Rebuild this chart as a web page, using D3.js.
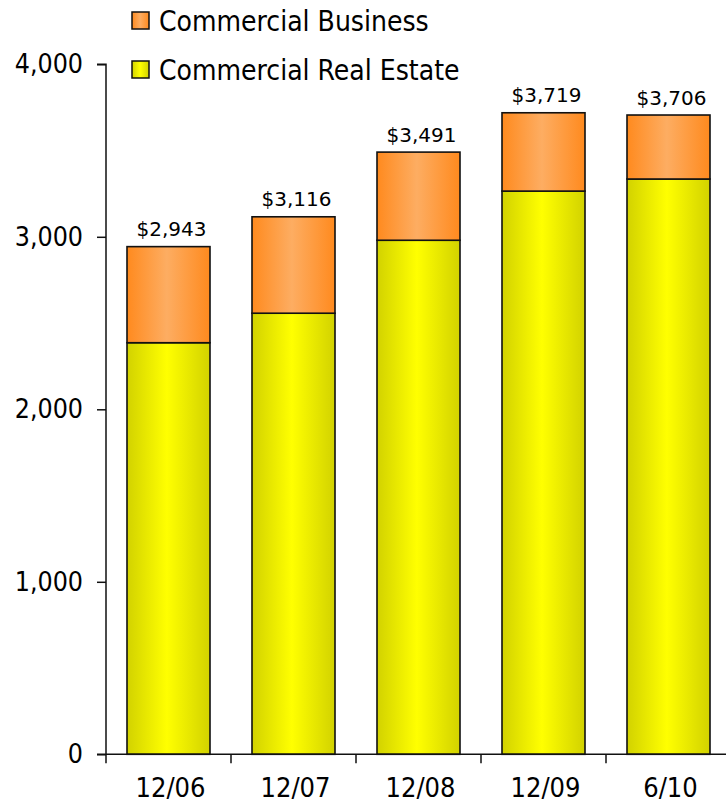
<!DOCTYPE html>
<html>
<head>
<meta charset="utf-8">
<script src="https://cdn.jsdelivr.net/npm/d3@7"></script>
<style>
  html, body { margin: 0; padding: 0; background: #fff; }
  svg { display: block; }
  text { font-family: "DejaVu Sans", sans-serif; fill: #000; }
  .cond text, text.cond { font-family: "DejaVu Sans Condensed", "DejaVu Sans", sans-serif; }
</style>
</head>
<body>
<svg id="chart" width="726" height="806"></svg>
<script>
// Loan portfolio composition by period ($ millions)
const categories = ["12/06", "12/07", "12/08", "12/09", "6/10"];
const realEstate = [2386, 2557, 2980, 3265, 3335];
const business   = [557, 559, 511, 454, 371];
const totals     = [2943, 3116, 3491, 3719, 3706];
const yTicks     = [0, 1000, 2000, 3000, 4000];
const seriesNames = ["Commercial Business", "Commercial Real Estate"];

const svg = d3.select("#chart");

const plot = { left: 106, top: 64.3, bottom: 754.3, step: 125 };

const y = d3.scaleLinear().domain([0, 4000]).range([plot.bottom, plot.top]);
const x = d3.scaleBand()
  .domain(categories)
  .range([plot.left, plot.left + plot.step * categories.length])
  .paddingInner(0.336)
  .paddingOuter(0.168);

// horizontal shading gradients for the bar fills
const defs = svg.append("defs");
function shade(id, edge, mid) {
  const g = defs.append("linearGradient").attr("id", id)
    .attr("x1", "0%").attr("x2", "100%").attr("y1", "0%").attr("y2", "0%");
  g.append("stop").attr("offset", "0%").attr("stop-color", edge);
  g.append("stop").attr("offset", "48%").attr("stop-color", mid);
  g.append("stop").attr("offset", "100%").attr("stop-color", edge);
}
shade("gradYellow", "#d2d200", "#ffff00");
shade("gradOrange", "#ff8a1e", "#fdad62");

const stackRows = categories.map((c, i) => ({ cat: c, re: realEstate[i], cb: business[i] }));
const stacked = d3.stack().keys(["re", "cb"])(stackRows);
const fills = { re: "url(#gradYellow)", cb: "url(#gradOrange)" };

svg.append("g").selectAll("g")
  .data(stacked)
  .join("g")
  .attr("fill", d => fills[d.key])
  .selectAll("rect")
  .data(d => d)
  .join("rect")
  .attr("x", d => x(d.data.cat))
  .attr("width", x.bandwidth())
  .attr("y", d => y(d[1]))
  .attr("height", d => y(d[0]) - y(d[1]))
  .attr("stroke", "#111")
  .attr("stroke-width", 1.6);

// total labels above each bar
svg.append("g").selectAll("text")
  .data(categories)
  .join("text")
  .attr("x", (c) => x(c) + x.bandwidth() / 2 + 3)
  .attr("y", (c, i) => y(totals[i]) - 10.5)
  .attr("text-anchor", "middle")
  .attr("font-size", 20)
  .text((c, i) => "$" + d3.format(",")(totals[i]));

// y axis
const yAxis = d3.axisLeft(y).tickValues(yTicks).tickFormat(d3.format(",")).tickSize(9).tickPadding(14);
const gy = svg.append("g").attr("class", "cond").attr("transform", `translate(${plot.left},0)`).call(yAxis);
gy.attr("font-family", null).attr("font-size", null);
gy.select(".domain").attr("d", `M-9,${plot.top}H0V${plot.bottom}`).attr("stroke", "#111").attr("stroke-width", 1.5);
gy.selectAll(".tick line").attr("stroke", "#111").attr("stroke-width", 1.5);
gy.selectAll(".tick text").attr("font-size", 26.5).attr("fill", "#000");

// x axis baseline with ticks between categories
const gx = svg.append("g").attr("class", "cond");
gx.append("line")
  .attr("x1", plot.left - 9).attr("x2", 740)
  .attr("y1", plot.bottom).attr("y2", plot.bottom)
  .attr("stroke", "#111").attr("stroke-width", 1.5);
gx.selectAll("line.tk")
  .data(categories)
  .join("line")
  .attr("class", "tk")
  .attr("x1", c => x(c) + x.bandwidth() / 2 - x.step() / 2)
  .attr("x2", c => x(c) + x.bandwidth() / 2 - x.step() / 2)
  .attr("y1", plot.bottom).attr("y2", plot.bottom + 9)
  .attr("stroke", "#111").attr("stroke-width", 1.5);
gx.selectAll("text")
  .data(categories)
  .join("text")
  .attr("x", c => x(c) + x.bandwidth() / 2 + 2)
  .attr("y", 797)
  .attr("text-anchor", "middle")
  .attr("font-size", 27)
  .text(c => c);

// legend
const legendRows = [
  { name: seriesNames[0], fill: "url(#gradOrange)", y: 12 },
  { name: seriesNames[1], fill: "url(#gradYellow)", y: 61 }
];
const lg = svg.append("g").attr("class", "cond").selectAll("g").data(legendRows).join("g")
  .attr("transform", d => `translate(132,${d.y})`);
lg.append("rect").attr("width", 17).attr("height", 17)
  .attr("fill", d => d.fill).attr("stroke", "#111").attr("stroke-width", 1.5);
lg.append("text").attr("x", 27).attr("y", 19).attr("font-size", 28).text(d => d.name);
</script>
</body>
</html>
